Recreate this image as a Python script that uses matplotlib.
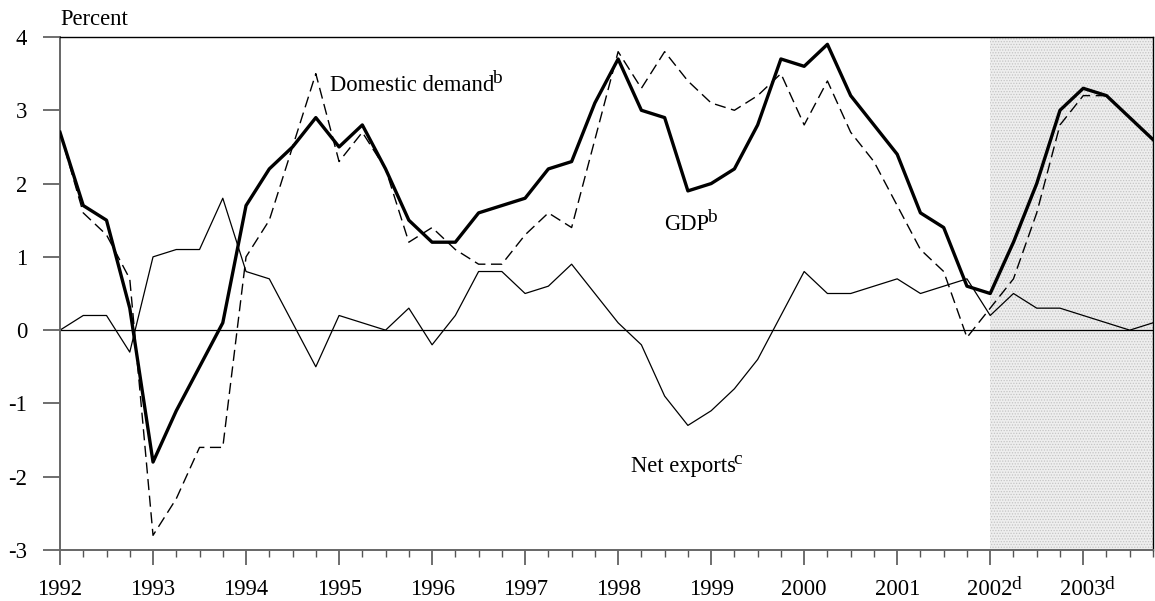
import numpy as np
import matplotlib
matplotlib.use("Agg")
import matplotlib.pyplot as plt
from matplotlib.ticker import FixedLocator

plt.rcParams['font.family'] = ['Liberation Serif', 'DejaVu Serif']
plt.rcParams['hatch.linewidth'] = 0.6

# Quarterly data, 1992Q1 .. 2003Q4
gdp = [2.7, 1.7, 1.5, 0.3, -1.8, -1.1, -0.5, 0.1, 1.7, 2.2, 2.5, 2.9,
       2.5, 2.8, 2.2, 1.5, 1.2, 1.2, 1.6, 1.7, 1.8, 2.2, 2.3, 3.1,
       3.7, 3.0, 2.9, 1.9, 2.0, 2.2, 2.8, 3.7, 3.6, 3.9, 3.2, 2.8,
       2.4, 1.6, 1.4, 0.6, 0.5, 1.2, 2.0, 3.0, 3.3, 3.2, 2.9, 2.6]
domestic_demand = [2.7, 1.6, 1.3, 0.7, -2.8, -2.3, -1.6, -1.6, 1.0, 1.5, 2.5, 3.5,
                   2.3, 2.7, 2.2, 1.2, 1.4, 1.1, 0.9, 0.9, 1.3, 1.6, 1.4, 2.6,
                   3.8, 3.3, 3.8, 3.4, 3.1, 3.0, 3.2, 3.5, 2.8, 3.4, 2.7, 2.3,
                   1.7, 1.1, 0.8, -0.1, 0.3, 0.7, 1.6, 2.8, 3.2, 3.2, 2.9, 2.6]
net_exports = [0.0, 0.2, 0.2, -0.3, 1.0, 1.1, 1.1, 1.8, 0.8, 0.7, 0.1, -0.5,
               0.2, 0.1, 0.0, 0.3, -0.2, 0.2, 0.8, 0.8, 0.5, 0.6, 0.9, 0.5,
               0.1, -0.2, -0.9, -1.3, -1.1, -0.8, -0.4, 0.2, 0.8, 0.5, 0.5, 0.6,
               0.7, 0.5, 0.6, 0.7, 0.2, 0.5, 0.3, 0.3, 0.2, 0.1, 0.0, 0.1]
year_labels = ['1992', '1993', '1994', '1995', '1996', '1997', '1998', '1999',
               '2000', '2001', '2002', '2003']
year_sups = ['', '', '', '', '', '', '', '', '', '', 'd', 'd']
y_ticks = [-3, -2, -1, 0, 1, 2, 3, 4]
forecast_start_year = 2002
first_year = 1992

FS = 16.3
q = np.arange(len(gdp))

W, H = 1155, 601
fig = plt.figure(figsize=(W / 100, H / 100), dpi=100)
ax = fig.add_axes([60/W, 1 - 550/H, (1153-60)/W, (550-37)/H])

# Shaded forecast period
x_fc = (forecast_start_year - first_year) * 4
ax.axvspan(x_fc, len(gdp) - 1, facecolor='#eeeeee', edgecolor='#c4c4c4',
           hatch='......', linewidth=0, zorder=0)

ax.axhline(0, color='black', lw=0.9, zorder=1)

ax.plot(q, net_exports, color='black', lw=0.9, zorder=2)
ax.plot(q, domestic_demand, color='black', lw=1.0, dashes=(8, 4), zorder=3)
ax.plot(q, gdp, color='black', lw=2.4, zorder=4)

ax.set_xlim(0, len(gdp) - 1)
ax.set_ylim(-3, 4)

major_x = np.arange(0, len(gdp), 4)
ax.xaxis.set_major_locator(FixedLocator(major_x))
ax.xaxis.set_minor_locator(FixedLocator(np.arange(0, len(gdp), 1)))
ax.set_xticklabels([])
ax.yaxis.set_major_locator(FixedLocator(y_ticks))
ax.set_yticklabels([str(v) for v in y_ticks])

ax.tick_params(axis='x', which='major', length=10.8, width=1.2, color='#555555',
               direction='out')
ax.tick_params(axis='x', which='minor', length=5, width=1.0, color='#555555',
               direction='out')
ax.tick_params(axis='y', which='major', length=12.2, width=1.2, color='#555555',
               labelsize=FS, pad=11.5, direction='out')

for side in ['left', 'bottom']:
    ax.spines[side].set_color('#666666')
    ax.spines[side].set_linewidth(1.4)
for side in ['top', 'right']:
    ax.spines[side].set_color('black')
    ax.spines[side].set_linewidth(1.0)


def label_with_sup(x, y, main, sup, transform, ha='left', raise_px=8):
    # main text placed by its baseline; superscript raised after it
    t = ax.text(x, y, main, fontsize=FS, ha=ha, va='baseline',
                transform=transform, clip_on=False)
    if sup:
        # bbox bottom sits ~0.22 em below the baseline
        desc = 0.22 * FS * 100 / 72
        ax.annotate(sup, xy=(1, 0), xycoords=t,
                    xytext=(-2, desc + raise_px), textcoords='offset pixels',
                    fontsize=FS * 0.85, ha='left', va='baseline',
                    annotation_clip=False)
    return t


# x tick labels centered under major ticks, baseline at ~595 px
xt = ax.get_xaxis_transform()
y_lab = -(595 - 550) / (550 - 37)
for xv, lab, sup in zip(major_x, year_labels, year_sups):
    label_with_sup(xv, y_lab, lab, sup, xt, ha='center', raise_px=6)

label_with_sup(11.61, 3.26, 'Domestic demand', 'b', ax.transData, raise_px=8)
label_with_sup(25.99, 1.36, 'GDP', 'b', ax.transData, raise_px=8)
label_with_sup(24.54, -1.94, 'Net exports', 'c', ax.transData, raise_px=8)

fig.text(60/W, 1 - 25/H, 'Percent', fontsize=FS, va='baseline', ha='left')

fig.savefig('out.png', dpi=100)
